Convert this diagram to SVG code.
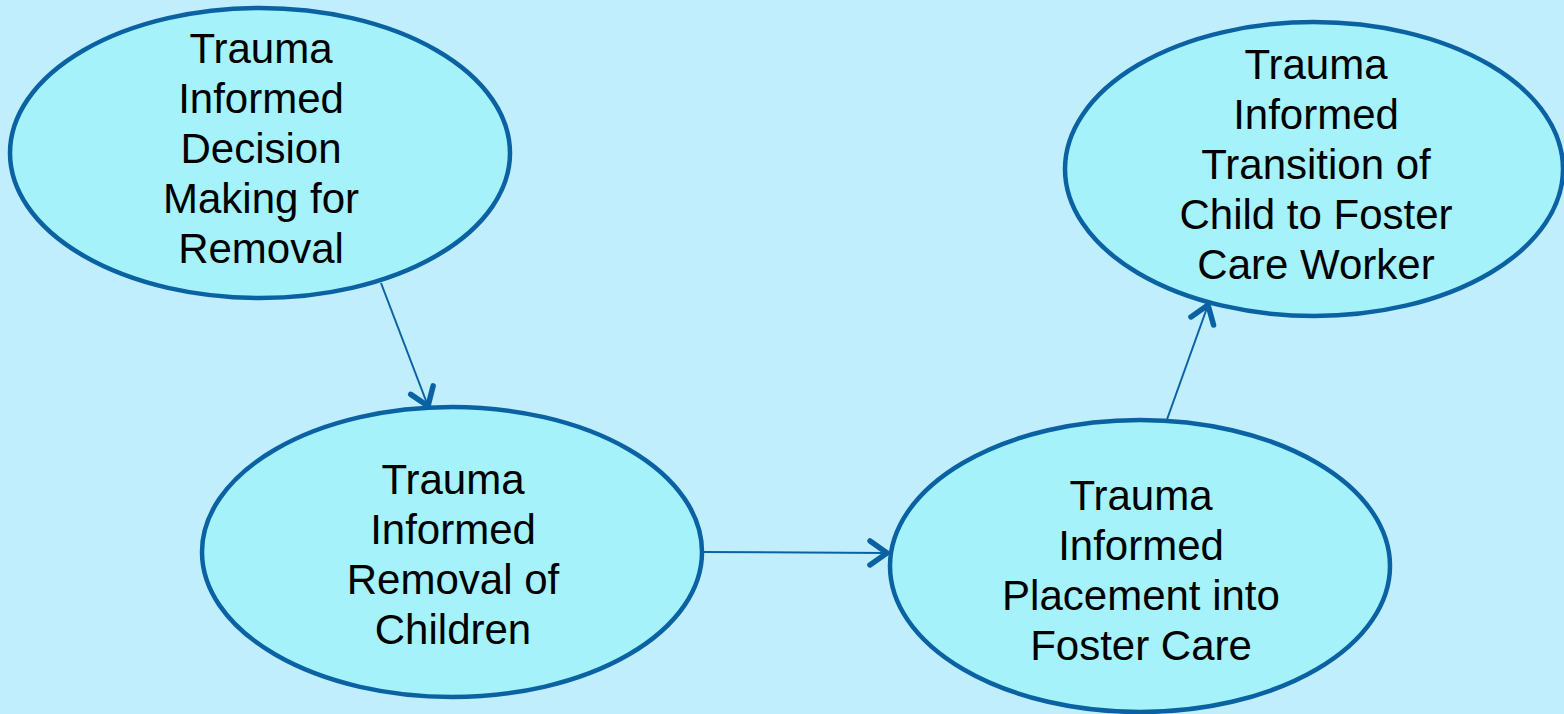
<svg xmlns="http://www.w3.org/2000/svg" width="1564" height="714" viewBox="0 0 1564 714">
<style>
.node ellipse{fill:#A5F2FA;stroke:#0A62A3;stroke-width:4.5}
.node text{font-family:"Liberation Sans",Arial,sans-serif;font-size:42px;fill:#000;text-anchor:middle}
.conn line{stroke:#0A62A3;stroke-width:2;fill:none}
</style>
<defs>
<marker id="arr" markerUnits="userSpaceOnUse" markerWidth="40" markerHeight="40" viewBox="-26 -20 32 40" refX="0" refY="0" orient="auto">
<path d="M-17,-12 L0,0 L-17,12" fill="none" stroke="#0A62A3" stroke-width="5.5" stroke-linecap="round" stroke-linejoin="round"/>
</marker>
</defs>
<rect width="1564" height="714" fill="#C0EEFD"/>
<g class="conn">
<line x1="381" y1="283" x2="428" y2="406" marker-end="url(#arr)"/>
<line x1="703" y1="552" x2="887" y2="553" marker-end="url(#arr)"/>
<line x1="1165" y1="425" x2="1208" y2="305" marker-end="url(#arr)"/>
</g>
<g id="n1" class="node">
<ellipse cx="260" cy="153" rx="250" ry="145"/>
<text x="261" y="63">Trauma</text>
<text x="261" y="113">Informed</text>
<text x="261" y="163">Decision</text>
<text x="261" y="213">Making for</text>
<text x="261" y="263">Removal</text>
</g>
<g id="n2" class="node">
<ellipse cx="452" cy="552" rx="250" ry="145"/>
<text x="453" y="494">Trauma</text>
<text x="453" y="544">Informed</text>
<text x="453" y="594">Removal of</text>
<text x="453" y="644">Children</text>
</g>
<g id="n3" class="node">
<ellipse cx="1140" cy="566" rx="250" ry="146"/>
<text x="1141" y="510">Trauma</text>
<text x="1141" y="560">Informed</text>
<text x="1141" y="610">Placement into</text>
<text x="1141" y="660">Foster Care</text>
</g>
<g id="n4" class="node">
<ellipse cx="1314" cy="169" rx="249" ry="147"/>
<text x="1316" y="79">Trauma</text>
<text x="1316" y="129">Informed</text>
<text x="1316" y="179">Transition of</text>
<text x="1316" y="229">Child to Foster</text>
<text x="1316" y="279">Care Worker</text>
</g>
</svg>
